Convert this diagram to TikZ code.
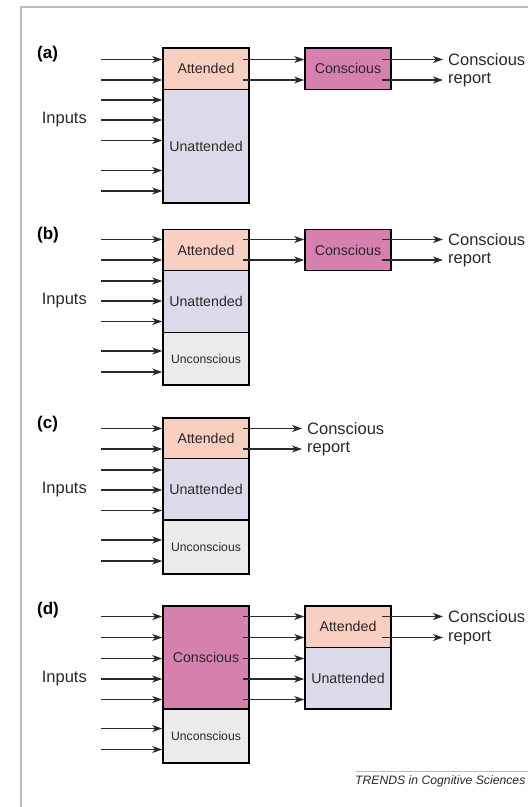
\documentclass[tikz,border=0pt]{standalone}
\usepackage{fontspec}
\setmainfont{Liberation Sans}
\usetikzlibrary{arrows.meta}
\definecolor{attc}{HTML}{F8CFC0}
\definecolor{unac}{HTML}{DCD9EA}
\definecolor{unco}{HTML}{EBEBEB}
\definecolor{consc}{HTML}{D580AE}
\definecolor{txtc}{HTML}{2E2628}
\definecolor{linec}{HTML}{2A2A2A}
\definecolor{framec}{HTML}{BBBBBB}
\begin{document}
\begin{tikzpicture}[x=1pt,y=-1pt,
  box/.style={draw=black, line width=1.6pt, inner sep=0pt, text=txtc, minimum width=86pt,
              font=\fontsize{14.2}{16}\selectfont},
  smallbox/.style={box, font=\fontsize{12.2}{14}\selectfont},
  arr/.style={draw=linec, line width=1.2pt, -{Stealth[length=10pt,width=7pt,inset=3pt]}},
  lab/.style={inner sep=0pt, text=txtc, font=\fontsize{16.5}{18}\selectfont},
  plab/.style={inner sep=0pt, text=black, font=\fontsize{17}{19}\selectfont\bfseries},
  credit/.style={inner sep=0pt, text=txtc, font=\fontsize{12.2}{14}\selectfont\itshape}]
\useasboundingbox (0,0) rectangle (528,807);
\draw[framec, line width=1.2pt] (21,815) -- (21,7) -- (540,7);

% ---------------- (a)
\node[plab, anchor=west] (pa) at (37,54) {(a)};
\node[box, fill=attc, minimum height=41.5pt] (aA) at (206,68.75) {Attended};
\node[box, fill=unac, minimum height=113.5pt] (aU) at (206,146.25) {Unattended};
\node[box, fill=consc, minimum height=41.5pt] (aC) at (348,68.75) {Conscious};
\node[lab, anchor=east] (ain) at (87,120) {Inputs};
\foreach \y [count=\i] in {59.5,80,100,120,140.5,170.5,191}{
  \coordinate (a-in\i) at (101,\y);
  \draw[arr] (a-in\i) -- (a-in\i -| aU.west);
}
\node[lab, anchor=west] (aR1) at (448,59.5) {Conscious};
\node[lab, anchor=west] (aR2) at (448,80) {report};
\foreach \y [count=\i] in {59.5,80}{
  \coordinate (a-m\i) at (243,\y);
  \draw[arr] (a-m\i) -- (a-m\i -| aC.west);
  \coordinate (a-o\i) at (382,\y);
  \draw[arr] (a-o\i) -- ([xshift=-5pt]aR\i.west);
}

% ---------------- (b)
\node[plab, anchor=west] (pb) at (37,235) {(b)};
\node[box, fill=attc, minimum height=41pt] (bA) at (206,250) {Attended};
\node[box, fill=unac, minimum height=62pt] (bU) at (206,301.5) {Unattended};
\node[smallbox, fill=unco, minimum height=52.5pt] (bN) at (206,358.75) {Unconscious};
\node[box, fill=consc, minimum height=41pt] (bC) at (348,250) {Conscious};
\node[lab, anchor=east] (bin) at (87,301) {Inputs};
\foreach \y [count=\i] in {239.5,260,281,301,321.5,351,372}{
  \coordinate (b-in\i) at (101,\y);
  \draw[arr] (b-in\i) -- (b-in\i -| bU.west);
}
\node[lab, anchor=west] (bR1) at (448,239.5) {Conscious};
\node[lab, anchor=west] (bR2) at (448,260) {report};
\foreach \y [count=\i] in {239.5,260}{
  \coordinate (b-m\i) at (243,\y);
  \draw[arr] (b-m\i) -- (b-m\i -| bC.west);
  \coordinate (b-o\i) at (382,\y);
  \draw[arr] (b-o\i) -- ([xshift=-5pt]bR\i.west);
}

% ---------------- (c)
\node[plab, anchor=west] (pc) at (37,424) {(c)};
\node[box, fill=attc, minimum height=40.5pt] (cA) at (206,438.25) {Attended};
\node[box, fill=unac, minimum height=61.5pt] (cU) at (206,489.25) {Unattended};
\node[smallbox, fill=unco, minimum height=54pt] (cN) at (206,547) {Unconscious};
\node[lab, anchor=east] (cin) at (87,490) {Inputs};
\foreach \y [count=\i] in {428.5,449,470,490,510.5,540,561}{
  \coordinate (c-in\i) at (101,\y);
  \draw[arr] (c-in\i) -- (c-in\i -| cU.west);
}
\node[lab, anchor=west] (cR1) at (307,428.5) {Conscious};
\node[lab, anchor=west] (cR2) at (307,449) {report};
\foreach \y [count=\i] in {428.5,449}{
  \coordinate (c-o\i) at (243,\y);
  \draw[arr] (c-o\i) -- ([xshift=-5pt]cR\i.west);
}

% ---------------- (d)
\node[plab, anchor=west] (pd) at (37,610) {(d)};
\node[box, fill=consc, minimum height=103pt] (dC) at (206,657.5) {Conscious};
\node[smallbox, fill=unco, minimum height=54pt] (dN) at (206,736) {Unconscious};
\node[box, fill=attc, minimum height=41.5pt] (dA) at (348,626.75) {Attended};
\node[box, fill=unac, minimum height=61.5pt] (dU) at (348,678.25) {Unattended};
\node[lab, anchor=east] (din) at (87,679) {Inputs};
\foreach \y [count=\i] in {616.5,637.5,658.5,679,699.5,728.5,749.5}{
  \coordinate (d-in\i) at (101,\y);
  \draw[arr] (d-in\i) -- (d-in\i -| dC.west);
}
\foreach \y [count=\i] in {616.5,637.5,658.5,679,699.5}{
  \coordinate (d-m\i) at (243,\y);
  \draw[arr] (d-m\i) -- (d-m\i -| dU.west);
}
\node[lab, anchor=west] (dR1) at (448,616.5) {Conscious};
\node[lab, anchor=west] (dR2) at (448,637.5) {report};
\foreach \y [count=\i] in {616.5,637.5}{
  \coordinate (d-o\i) at (382,\y);
  \draw[arr] (d-o\i) -- ([xshift=-5pt]dR\i.west);
}

% credit
\coordinate (cr0) at (356,771);
\coordinate (cr1) at (540,771);
\draw[framec, line width=1pt] (cr0) -- (cr1);
\node[credit, anchor=west] (cred) at (355,781) {TRENDS in Cognitive Sciences};
\end{tikzpicture}
\end{document}
